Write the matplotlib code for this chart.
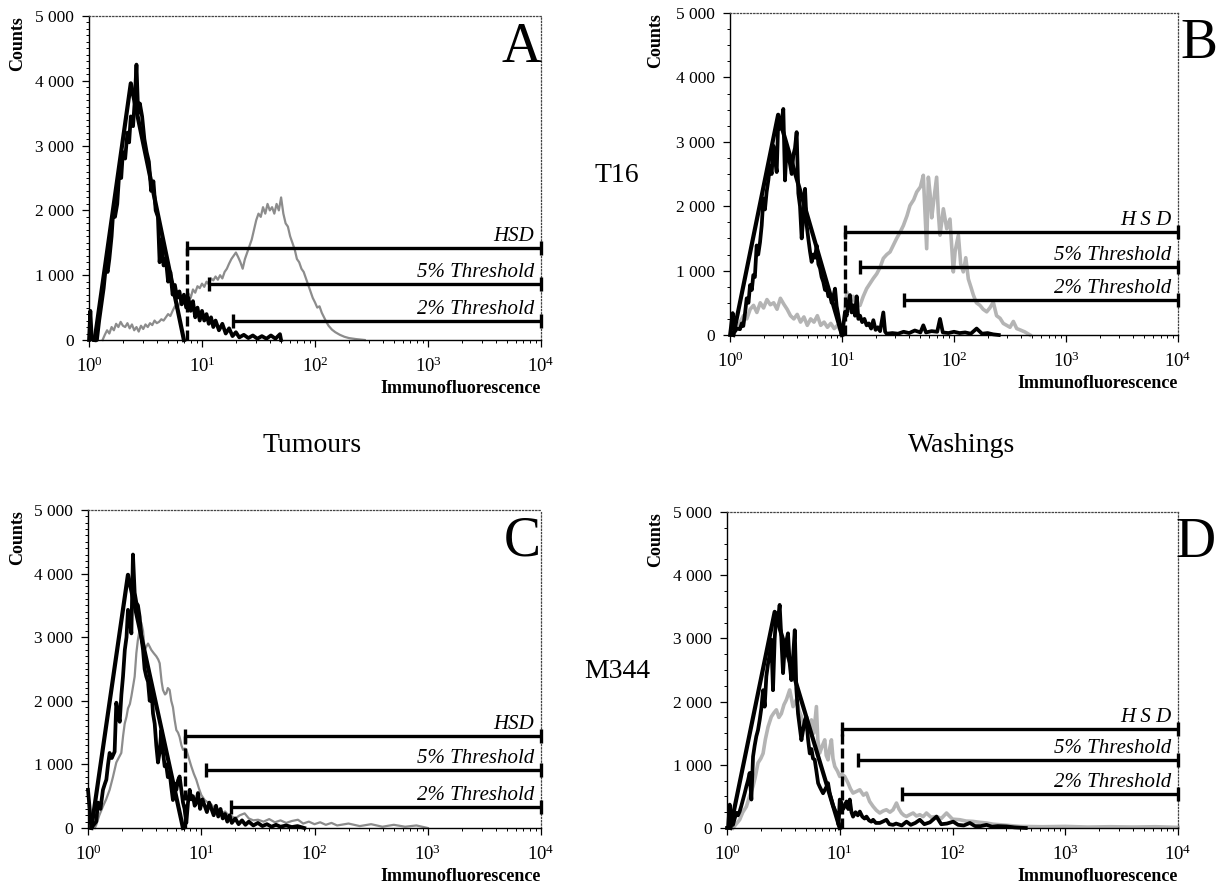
import matplotlib.pyplot as plt
import numpy as np
from matplotlib.ticker import MultipleLocator, LogLocator, LogFormatterMathtext, NullFormatter

plt.rcParams['font.family'] = ['Liberation Serif', 'DejaVu Serif']
plt.rcParams['mathtext.fontset'] = 'custom'
plt.rcParams['mathtext.rm'] = 'Liberation Serif'
plt.rcParams['mathtext.it'] = 'Liberation Serif:italic'
plt.rcParams['mathtext.bf'] = 'Liberation Serif:bold'

# (log10 fluorescence, counts)
a_black = [(0.000, 0), (0.012, 450), (0.022, 100), (0.035, 0), (0.070, 0), (0.090, 300), (0.110, 550),
           (0.130, 800), (0.150, 1150), (0.165, 1050), (0.180, 1250), (0.200, 1600), (0.215, 2000),
           (0.230, 1900), (0.250, 2100), (0.270, 2650), (0.285, 2500), (0.300, 2900), (0.320, 2800),
           (0.340, 3200), (0.355, 3050), (0.370, 3450), (0.390, 3300), (0.405, 3700), (0.420, 4250),
           (0.435, 3500), (0.450, 3650), (0.470, 3450), (0.490, 3100), (0.510, 2900), (0.530, 2750),
           (0.550, 2300), (0.570, 2450), (0.590, 2000), (0.610, 1900), (0.625, 1200), (0.640, 1550),
           (0.660, 1150), (0.680, 1250), (0.700, 900), (0.720, 1050), (0.740, 700), (0.760, 850),
           (0.780, 650), (0.800, 750), (0.820, 550), (0.840, 700), (0.860, 500), (0.880, 650),
           (0.900, 450), (0.920, 600), (0.940, 350), (0.960, 500), (0.980, 300), (1.000, 450),
           (1.020, 300), (1.040, 400), (1.060, 250), (1.080, 350), (1.100, 200), (1.120, 300),
           (1.150, 150), (1.180, 250), (1.210, 100), (1.240, 180), (1.270, 60), (1.300, 120),
           (1.330, 40), (1.370, 80), (1.410, 30), (1.450, 70), (1.490, 20), (1.530, 60), (1.570, 20),
           (1.610, 70), (1.650, 20), (1.690, 90), (1.700, 0)]
a_gray = [(0.12, 0), (0.14, 80), (0.16, 150), (0.18, 100), (0.20, 200), (0.22, 150), (0.24, 250),
          (0.26, 200), (0.28, 280), (0.30, 220), (0.32, 200), (0.34, 260), (0.36, 180), (0.38, 240),
          (0.40, 150), (0.42, 200), (0.44, 130), (0.46, 220), (0.48, 170), (0.50, 240), (0.52, 200),
          (0.54, 260), (0.56, 230), (0.58, 300), (0.60, 260), (0.62, 280), (0.64, 320), (0.66, 300),
          (0.68, 350), (0.70, 400), (0.72, 370), (0.74, 450), (0.76, 520), (0.78, 480), (0.80, 560),
          (0.82, 620), (0.84, 580), (0.86, 680), (0.88, 720), (0.90, 650), (0.92, 780), (0.94, 730),
          (0.96, 830), (0.98, 800), (1.00, 870), (1.02, 820), (1.04, 900), (1.06, 860), (1.08, 950),
          (1.10, 920), (1.12, 980), (1.14, 930), (1.16, 1000), (1.18, 950), (1.20, 1050), (1.22, 1100),
          (1.24, 1180), (1.26, 1250), (1.28, 1300), (1.30, 1350), (1.32, 1280), (1.34, 1200),
          (1.36, 1100), (1.38, 1250), (1.40, 1350), (1.42, 1450), (1.44, 1550), (1.46, 1700),
          (1.48, 1850), (1.50, 1950), (1.52, 1900), (1.54, 2050), (1.56, 1950), (1.58, 2100),
          (1.60, 2000), (1.62, 2050), (1.64, 1950), (1.66, 2100), (1.68, 2000), (1.70, 2200),
          (1.72, 1950), (1.74, 1800), (1.76, 1750), (1.78, 1600), (1.80, 1500), (1.82, 1400),
          (1.84, 1250), (1.86, 1200), (1.88, 1100), (1.90, 1050), (1.92, 950), (1.94, 850),
          (1.96, 750), (1.98, 650), (2.00, 580), (2.02, 500), (2.04, 520), (2.06, 420), (2.08, 350),
          (2.10, 280), (2.12, 220), (2.15, 160), (2.18, 120), (2.22, 80), (2.26, 50), (2.30, 30),
          (2.36, 15), (2.44, 0)]
a_fit = [(0.05, 0), (0.37, 3960), (0.84, 0)]
a_thr_start = [0.87, 1.06, 1.27]
a_thr_level = [1425, 860, 290]

b_black = [(0.000, 0), (0.024, 340), (0.035, 100), (0.045, 60), (0.060, 100), (0.089, 90), (0.105, 180),
           (0.119, 140), (0.135, 350), (0.149, 570), (0.165, 500), (0.179, 775), (0.195, 700),
           (0.208, 930), (0.222, 900), (0.238, 1390), (0.252, 1250), (0.268, 1440), (0.283, 1700),
           (0.298, 2120), (0.312, 1950), (0.327, 2220), (0.342, 2400), (0.357, 2630), (0.372, 2500),
           (0.387, 2940), (0.400, 2750), (0.417, 2530), (0.432, 3400), (0.445, 3200), (0.460, 3300),
           (0.476, 3510), (0.491, 2400), (0.505, 2900), (0.521, 2800), (0.536, 2650), (0.551, 2500),
           (0.566, 2800), (0.580, 2900), (0.595, 3150), (0.610, 2200), (0.625, 2000), (0.640, 1500),
           (0.655, 1850), (0.670, 2270), (0.685, 1700), (0.699, 1500), (0.714, 1300), (0.729, 1135),
           (0.744, 1250), (0.759, 1200), (0.774, 1390), (0.789, 1100), (0.804, 1035), (0.818, 900),
           (0.833, 825), (0.848, 700), (0.863, 750), (0.878, 600), (0.893, 620), (0.908, 500),
           (0.923, 600), (0.938, 720), (0.952, 450), (0.967, 310), (0.982, 150), (0.997, 0),
           (1.012, 150), (1.027, 360), (1.042, 300), (1.057, 500), (1.071, 620), (1.086, 350),
           (1.101, 460), (1.116, 300), (1.131, 600), (1.146, 250), (1.161, 300), (1.180, 200),
           (1.200, 250), (1.220, 150), (1.240, 180), (1.260, 100), (1.280, 230), (1.300, 80),
           (1.320, 120), (1.340, 60), (1.369, 350), (1.385, 50), (1.399, 20), (1.45, 30), (1.50, 20),
           (1.55, 50), (1.60, 30), (1.65, 70), (1.70, 40), (1.726, 150), (1.75, 40), (1.80, 60),
           (1.85, 50), (1.875, 250), (1.90, 40), (1.95, 30), (2.00, 50), (2.05, 30), (2.10, 40),
           (2.15, 20), (2.202, 100), (2.25, 20), (2.30, 30), (2.35, 10), (2.40, 0)]
b_gray = [(0.03, 0), (0.06, 100), (0.09, 200), (0.12, 300), (0.15, 250), (0.18, 400), (0.21, 460),
          (0.24, 350), (0.27, 500), (0.30, 420), (0.33, 550), (0.36, 470), (0.39, 500), (0.42, 400),
          (0.45, 570), (0.48, 480), (0.51, 400), (0.54, 300), (0.57, 250), (0.60, 320), (0.63, 200),
          (0.66, 280), (0.69, 150), (0.72, 250), (0.75, 200), (0.78, 300), (0.81, 150), (0.84, 200),
          (0.87, 120), (0.90, 180), (0.93, 100), (0.96, 150), (0.99, 60), (1.02, 250), (1.042, 670),
          (1.07, 500), (1.10, 600), (1.13, 450), (1.161, 460), (1.19, 600), (1.22, 720), (1.25, 800),
          (1.28, 880), (1.31, 950), (1.34, 1050), (1.369, 1190), (1.40, 1250), (1.429, 1290),
          (1.46, 1400), (1.488, 1500), (1.52, 1600), (1.548, 1700), (1.58, 1850), (1.607, 2010),
          (1.64, 2100), (1.667, 2220), (1.70, 2300), (1.726, 2480), (1.756, 1340), (1.771, 2450),
          (1.786, 2200), (1.801, 1820), (1.82, 2100), (1.845, 2450), (1.86, 1900), (1.875, 1550),
          (1.89, 1750), (1.905, 1960), (1.935, 1650), (1.964, 1800), (1.994, 980), (2.01, 1300),
          (2.039, 1550), (2.06, 1100), (2.083, 980), (2.105, 1200), (2.128, 870), (2.15, 750),
          (2.173, 620), (2.20, 500), (2.232, 460), (2.26, 400), (2.292, 360), (2.32, 420),
          (2.351, 510), (2.38, 300), (2.411, 260), (2.44, 180), (2.47, 150), (2.50, 120),
          (2.53, 210), (2.56, 100), (2.589, 80), (2.63, 50), (2.679, 0)]
b_fit = [(0.03, 0), (0.43, 3420), (1.0, 0)]
b_thr_start = [1.027, 1.16, 1.557]
b_thr_level = [1600, 1060, 540]

c_black = [(0.000, 600), (0.015, 300), (0.029, 0), (0.050, 50), (0.073, 100), (0.088, 400), (0.110, 300),
           (0.132, 600), (0.150, 700), (0.162, 760), (0.177, 1000), (0.191, 1180), (0.210, 1100),
           (0.235, 1200), (0.250, 1970), (0.265, 1800), (0.280, 1670), (0.295, 2100), (0.309, 2380),
           (0.325, 2800), (0.340, 3000), (0.353, 3430), (0.368, 3300), (0.383, 3060), (0.397, 4300),
           (0.412, 3700), (0.427, 3540), (0.441, 3500), (0.456, 3320), (0.471, 3000), (0.486, 2800),
           (0.500, 2500), (0.515, 2380), (0.530, 2300), (0.545, 2000), (0.559, 2220), (0.574, 1800),
           (0.589, 1640), (0.603, 1300), (0.618, 1030), (0.633, 1200), (0.648, 1540), (0.662, 1200),
           (0.677, 970), (0.690, 1000), (0.705, 800), (0.721, 870), (0.735, 650), (0.750, 440),
           (0.765, 700), (0.780, 600), (0.795, 750), (0.809, 810), (0.824, 600), (0.839, 400),
           (0.853, 300), (0.868, 80), (0.883, 400), (0.898, 600), (0.912, 450), (0.927, 500),
           (0.942, 350), (0.956, 400), (0.971, 550), (0.990, 300), (1.01, 450), (1.03, 350),
           (1.05, 250), (1.07, 400), (1.09, 300), (1.11, 200), (1.13, 350), (1.15, 180), (1.17, 300),
           (1.19, 150), (1.21, 220), (1.23, 100), (1.25, 200), (1.27, 80), (1.30, 150), (1.33, 60),
           (1.36, 120), (1.39, 50), (1.42, 100), (1.46, 40), (1.50, 80), (1.54, 30), (1.58, 60),
           (1.62, 20), (1.66, 50), (1.70, 20), (1.75, 40), (1.80, 15), (1.85, 30), (1.91, 0)]
c_gray = [(0.06, 0), (0.073, 50), (0.10, 200), (0.132, 340), (0.16, 450), (0.191, 600), (0.22, 800),
          (0.250, 1030), (0.27, 1100), (0.294, 1180), (0.31, 1450), (0.324, 1640), (0.34, 1750),
          (0.353, 1880), (0.37, 1950), (0.383, 2070), (0.40, 2250), (0.412, 2380), (0.427, 2750),
          (0.44, 2950), (0.456, 3120), (0.47, 3230), (0.486, 3100), (0.500, 2800), (0.515, 2850),
          (0.530, 2900), (0.545, 2850), (0.559, 2800), (0.58, 2750), (0.603, 2700), (0.62, 2650),
          (0.633, 2590), (0.65, 2300), (0.662, 2170), (0.68, 2100), (0.692, 2120), (0.705, 2200),
          (0.721, 2170), (0.735, 2000), (0.750, 1900), (0.765, 1700), (0.780, 1540), (0.795, 1500),
          (0.809, 1430), (0.825, 1300), (0.839, 1230), (0.855, 1250), (0.868, 1230), (0.89, 1100),
          (0.912, 970), (0.935, 850), (0.956, 760), (0.98, 620), (1.00, 520), (1.03, 440),
          (1.06, 400), (1.089, 370), (1.12, 300), (1.148, 250), (1.18, 220), (1.21, 260),
          (1.24, 200), (1.266, 190), (1.30, 150), (1.34, 200), (1.383, 230), (1.42, 150),
          (1.46, 120), (1.501, 130), (1.55, 100), (1.60, 140), (1.65, 90), (1.70, 120), (1.75, 80),
          (1.80, 110), (1.854, 130), (1.90, 70), (1.95, 100), (2.00, 60), (2.05, 90), (2.10, 50),
          (2.15, 80), (2.20, 40), (2.30, 70), (2.40, 30), (2.50, 60), (2.60, 20), (2.70, 50),
          (2.80, 20), (2.90, 40), (3.00, 0)]
c_fit = [(0.03, 0), (0.353, 3980), (0.839, 0)]
c_thr_start = [0.853, 1.045, 1.266]
c_thr_level = [1440, 905, 330]

d_black = [(0.000, 0), (0.009, 0), (0.024, 370), (0.040, 100), (0.053, 50), (0.068, 150), (0.083, 240),
           (0.097, 200), (0.112, 260), (0.127, 350), (0.142, 450), (0.157, 550), (0.172, 660),
           (0.186, 750), (0.201, 870), (0.216, 450), (0.231, 1130), (0.245, 1300), (0.260, 1450),
           (0.275, 1550), (0.290, 1710), (0.305, 1900), (0.320, 2180), (0.334, 1920), (0.349, 2400),
           (0.364, 2600), (0.379, 2750), (0.393, 2980), (0.408, 2180), (0.423, 3000), (0.438, 3400),
           (0.452, 3300), (0.467, 3530), (0.482, 3000), (0.497, 2450), (0.512, 2870), (0.526, 2950),
           (0.541, 3080), (0.556, 2600), (0.571, 2340), (0.586, 2700), (0.601, 3130), (0.615, 2200),
           (0.630, 1810), (0.645, 1600), (0.660, 1390), (0.675, 1550), (0.689, 1700), (0.704, 1760),
           (0.719, 1400), (0.734, 1180), (0.749, 1250), (0.763, 1100), (0.778, 1080), (0.793, 900),
           (0.808, 710), (0.823, 650), (0.837, 600), (0.852, 550), (0.867, 600), (0.882, 650),
           (0.896, 710), (0.911, 550), (0.926, 450), (0.941, 350), (0.956, 290), (0.975, 200),
           (0.990, 50), (1.000, 450), (1.015, 400), (1.030, 300), (1.044, 340), (1.060, 420),
           (1.075, 300), (1.089, 450), (1.104, 250), (1.118, 180), (1.140, 250), (1.160, 200),
           (1.178, 260), (1.20, 180), (1.220, 150), (1.237, 180), (1.26, 120), (1.280, 100),
           (1.296, 130), (1.32, 80), (1.355, 80), (1.38, 100), (1.414, 130), (1.44, 60), (1.473, 50),
           (1.50, 70), (1.55, 40), (1.592, 100), (1.63, 50), (1.67, 80), (1.710, 130), (1.75, 60),
           (1.80, 90), (1.858, 180), (1.90, 60), (1.95, 70), (2.006, 100), (2.05, 50), (2.10, 40),
           (2.154, 80), (2.20, 30), (2.25, 30), (2.302, 50), (2.35, 20), (2.40, 30), (2.479, 25),
           (2.55, 10), (2.65, 0)]
d_gray = [(0.053, 0), (0.08, 60), (0.112, 130), (0.14, 250), (0.172, 340), (0.20, 500), (0.231, 660),
          (0.25, 800), (0.275, 1030), (0.30, 1100), (0.320, 1180), (0.34, 1400), (0.364, 1600),
          (0.393, 1760), (0.415, 1820), (0.438, 1870), (0.46, 1750), (0.482, 1810), (0.505, 1950),
          (0.527, 2030), (0.556, 2185), (0.586, 1920), (0.615, 2030), (0.64, 1850), (0.660, 1763),
          (0.68, 1650), (0.704, 1553), (0.725, 1600), (0.749, 1711), (0.77, 1500), (0.793, 1921),
          (0.805, 1400), (0.822, 1185), (0.845, 1300), (0.867, 1395), (0.88, 1150), (0.896, 1079),
          (0.91, 1250), (0.926, 1395), (0.94, 1100), (0.956, 973), (0.98, 900), (1.0, 815),
          (1.02, 850), (1.044, 815), (1.074, 711), (1.095, 620), (1.118, 553), (1.15, 580),
          (1.178, 605), (1.21, 520), (1.237, 553), (1.265, 420), (1.296, 341), (1.325, 280),
          (1.355, 237), (1.385, 270), (1.414, 289), (1.445, 250), (1.473, 289), (1.503, 395),
          (1.525, 300), (1.547, 237), (1.57, 200), (1.592, 183), (1.62, 210), (1.651, 237),
          (1.68, 190), (1.710, 210), (1.74, 180), (1.769, 237), (1.81, 170), (1.858, 183),
          (1.90, 150), (1.947, 237), (2.00, 140), (2.065, 131), (2.12, 110), (2.183, 104),
          (2.24, 90), (2.302, 79), (2.36, 60), (2.420, 52), (2.50, 40), (2.598, 25), (2.80, 20),
          (3.00, 25), (3.20, 15), (3.40, 20), (3.60, 15), (3.80, 20), (4.00, 10)]
d_fit = [(0.03, 0), (0.423, 3420), (1.0, 0)]
d_thr_start = [1.024, 1.163, 1.553]
d_thr_level = [1564, 1079, 542]

names_ac = ['HSD', '5% Threshold', '2% Threshold']
names_bd = ['H S D', '5% Threshold', '2% Threshold']
y_ticks = [0, 1000, 2000, 3000, 4000, 5000]
y_labels = ['0', '1 000', '2 000', '3 000', '4 000', '5 000']

W, H = 1221, 885


def fx(px):
    return px / W


def fy(py):
    return 1 - py / H


def draw(ax, black, gray, fit, starts, levels, names, gcol, glw, ystep):
    gx, gy = zip(*gray)
    ax.plot(10 ** np.array(gx), gy, color=gcol, lw=glw, zorder=2, clip_on=False)
    bx, by = zip(*black)
    ax.plot(10 ** np.array(bx), by, color='black', lw=2.7, zorder=3, clip_on=False)
    fxs, fys = zip(*fit)
    ax.plot(10 ** np.array(fxs), fys, color='black', lw=3.0, zorder=4, clip_on=False)
    for s, lv, nm in zip(starts, levels, names):
        x0 = 10 ** s
        ax.plot([x0, 1e4], [lv, lv], color='black', lw=2.4, zorder=5,
                solid_capstyle='butt', clip_on=False)
        ax.plot([x0, 1e4], [lv, lv], ls='none', marker='|', ms=10, mew=2.4,
                color='black', zorder=5, clip_on=False)
        ax.annotate(nm, xy=(1e4, lv), xytext=(-5, 5), textcoords='offset points',
                    ha='right', va='baseline', style='italic', fontsize=15)
    ax.plot([10 ** starts[0]] * 2, [0, levels[0]], color='black', lw=2.4,
            ls=(0, (3, 1.2)), zorder=5)

    ax.set_xscale('log')
    ax.set_xlim(1, 1e4)
    ax.set_ylim(0, 5000)
    ax.set_yticks(y_ticks)
    ax.set_yticklabels(y_labels)
    ax.yaxis.set_minor_locator(MultipleLocator(ystep))
    ax.xaxis.set_major_locator(LogLocator(base=10, numticks=10))
    ax.xaxis.set_minor_locator(LogLocator(base=10, subs=np.arange(2, 10), numticks=10))
    ax.xaxis.set_major_formatter(LogFormatterMathtext())
    ax.xaxis.set_minor_formatter(NullFormatter())
    ax.tick_params(axis='both', which='major', direction='out', length=5, width=0.9)
    ax.tick_params(axis='both', which='minor', direction='out', length=2.5, width=0.7)
    ax.tick_params(axis='y', labelsize=12.5, pad=6)
    ax.tick_params(axis='x', labelsize=13.5, pad=7)
    for side in ['top', 'right']:
        ax.spines[side].set_linestyle(':')
        ax.spines[side].set_linewidth(0.9)
        ax.spines[side].set_color('#444444')
    ax.spines['left'].set_linewidth(1.0)
    ax.spines['bottom'].set_linewidth(1.0)
    ax.annotate('Immunofluorescence', xy=(1, 0), xycoords='axes fraction',
                xytext=(0, -35), textcoords='offset points', ha='right', va='center',
                fontsize=13, fontweight='bold')


fig = plt.figure(figsize=(12.21, 8.85), dpi=100)

ax_a = fig.add_axes([fx(89), fy(340), fx(541) - fx(89), (340 - 16) / H])
ax_b = fig.add_axes([fx(730), fy(335), fx(1178) - fx(730), (335 - 13) / H])
ax_c = fig.add_axes([fx(88), fy(828), fx(541) - fx(88), (828 - 510) / H])
ax_d = fig.add_axes([fx(727), fy(828), fx(1178) - fx(727), (828 - 512) / H])

draw(ax_a, a_black, a_gray, a_fit, a_thr_start, a_thr_level, names_ac, '#8c8c8c', 1.6, 100)
draw(ax_b, b_black, b_gray, b_fit, b_thr_start, b_thr_level, names_bd, '#b4b4b4', 2.6, 250)
draw(ax_c, c_black, c_gray, c_fit, c_thr_start, c_thr_level, names_ac, '#8c8c8c', 1.6, 100)
draw(ax_d, d_black, d_gray, d_fit, d_thr_start, d_thr_level, names_bd, '#b4b4b4', 2.6, 250)

# y-axis titles
fig.text(fx(18), fy(16), 'Counts', rotation=90, ha='center', va='top', fontsize=13, fontweight='bold')
fig.text(fx(656), fy(13), 'Counts', rotation=90, ha='center', va='top', fontsize=13, fontweight='bold')
fig.text(fx(18), fy(510), 'Counts', rotation=90, ha='center', va='top', fontsize=13, fontweight='bold')
fig.text(fx(656), fy(512), 'Counts', rotation=90, ha='center', va='top', fontsize=13, fontweight='bold')

# panel letters
fig.text(fx(541), fy(62), 'A', ha='right', va='baseline', fontsize=40)
fig.text(fx(1217), fy(58), 'B', ha='right', va='baseline', fontsize=40)
fig.text(fx(541), fy(555), 'C', ha='right', va='baseline', fontsize=40)
fig.text(fx(1216), fy(557), 'D', ha='right', va='baseline', fontsize=40)

# row / column labels
fig.text(fx(617), fy(176), 'T16', ha='center', va='center', fontsize=20)
fig.text(fx(617), fy(672), 'M344', ha='center', va='center', fontsize=20)
fig.text(fx(312), fy(445), 'Tumours', ha='center', va='center', fontsize=20)
fig.text(fx(962), fy(445), 'Washings', ha='center', va='center', fontsize=20)

fig.savefig('out.png', dpi=100)
